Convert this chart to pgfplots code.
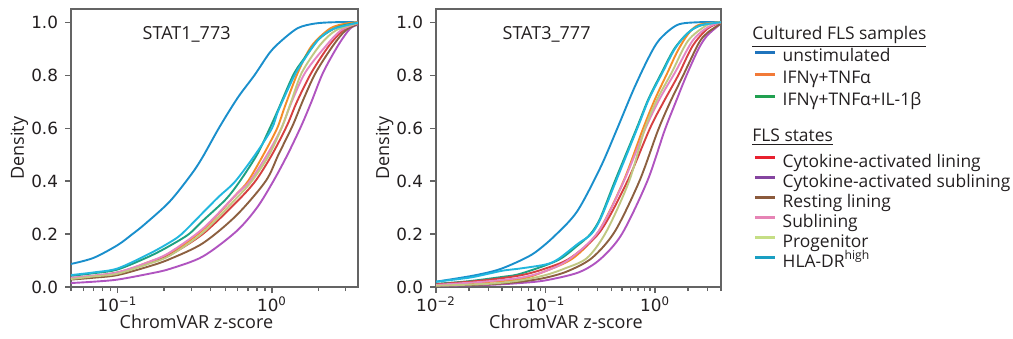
\documentclass[border=0pt]{standalone}
\usepackage{fontspec}
\setmainfont{Open Sans}
\newfontfamily\dejavu{DejaVu Sans}
\usepackage{pgfplots}
\pgfplotsset{compat=1.18}

\definecolor{axgray}{RGB}{100,100,100}
\definecolor{txt}{RGB}{35,31,32}
\definecolor{pblue}{RGB}{26,143,204}
\definecolor{porange}{RGB}{245,140,40}
\definecolor{pgreen}{RGB}{30,160,128}
\definecolor{pred}{RGB}{214,64,64}
\definecolor{ppurple}{RGB}{176,84,192}
\definecolor{pbrown}{RGB}{140,96,64}
\definecolor{ppink}{RGB}{228,134,196}
\definecolor{polive}{RGB}{192,200,130}
\definecolor{pcyan}{RGB}{34,183,222}
\definecolor{lblue}{RGB}{31,116,189}
\definecolor{lorange}{RGB}{242,122,56}
\definecolor{lgreen}{RGB}{33,160,80}
\definecolor{lred}{RGB}{232,32,46}
\definecolor{lpurple}{RGB}{133,69,160}
\definecolor{lbrown}{RGB}{139,90,60}
\definecolor{lpink}{RGB}{230,132,181}
\definecolor{lolive}{RGB}{197,222,133}
\definecolor{lcyan}{RGB}{26,159,194}

\newcommand\legfont{\fontsize{8.7bp}{10bp}\selectfont}
\newcommand\tickfont{\dejavu\fontsize{8.4bp}{10bp}\selectfont}
\newcommand\labfont{\fontsize{9bp}{11bp}\selectfont}

\begin{document}
\begin{tikzpicture}
\useasboundingbox (0,0) rectangle (506.5bp,169.5bp);

% ---------------- left panel ----------------
\begin{axis}[at={(35.5bp,26bp)}, anchor=south west,
  scale only axis, width=143.5bp, height=139bp, clip mode=individual,
  xmode=log, xmin=0.05, xmax=3.6, ymin=0, ymax=1.05,
  ytick={0,0.2,0.4,0.6,0.8,1.0},
  yticklabels={0.0,0.2,0.4,0.6,0.8,1.0},
  xtick={0.1,1}, xticklabels={{10\textsuperscript{−1}},{10\textsuperscript{0}}},
  minor xtick={0.05,0.06,0.07,0.08,0.09,0.2,0.3,0.4,0.5,0.6,0.7,0.8,0.9,2,3},
  tick align=outside, tick pos=left,
  major tick length=3bp, minor tick length=2bp,
  axis line style={draw=axgray, line width=0.6bp},
  every tick/.append style={draw=axgray, line width=0.6bp},
  yticklabel style={font=\tickfont, text=txt},
  xticklabel style={font=\tickfont, text=txt, anchor=base, inner sep=0pt, yshift=-9bp},
  ylabel={Density}, xlabel={ChromVAR z-score},
  ylabel style={font=\labfont, text=txt, at={(axis description cs:-0.18,0.5)}, anchor=center},
  xlabel style={font=\labfont, text=txt, inner sep=0pt, at={(axis description cs:0.437,0)}, anchor=base, yshift=-20.5bp},
  legend cell align=left,
  legend image code/.code={\path (0bp,0bp) (10bp,0bp); \draw[#1, line width=1.7bp] (0bp,2.4bp) -- (10bp,2.4bp);},
  legend style={at={(axis description cs:2.376,0.867)}, anchor=north west,
    draw=none, fill=none, inner sep=0pt, row sep=0pt, column sep=3bp,
    nodes={inner sep=0pt, font=\legfont, text=txt, text height=7.5bp, text depth=3.5bp}},
]
\addplot[smooth, line width=0.95bp, pblue, forget plot] coordinates {(0.05,0.087)(0.07,0.11)(0.1,0.158)(0.125,0.2)(0.15,0.237)(0.217,0.322)(0.3,0.425)(0.355,0.49)(0.458,0.605)(0.6,0.715)(0.77,0.80)(0.966,0.885)(1.15,0.93)(1.47,0.978)(1.89,0.995)(2.5,1.0)(3.6,1.0)};
\addplot[smooth, line width=0.95bp, porange, forget plot] coordinates {(0.05,0.03)(0.07,0.038)(0.1,0.05)(0.16,0.095)(0.217,0.125)(0.356,0.215)(0.587,0.35)(0.7,0.4)(0.88,0.5)(1.08,0.6)(1.22,0.687)(1.47,0.81)(1.8,0.91)(2.37,0.976)(3.0,0.995)(3.6,1.0)};
\addplot[smooth, line width=0.95bp, pgreen, forget plot] coordinates {(0.05,0.042)(0.07,0.052)(0.1,0.066)(0.16,0.115)(0.217,0.155)(0.29,0.2)(0.356,0.25)(0.5,0.33)(0.62,0.4)(0.8,0.5)(0.95,0.59)(1.09,0.667)(1.37,0.8)(1.6,0.86)(2.0,0.935)(2.5,0.975)(3.0,0.99)(3.6,0.998)};
\addplot[smooth, line width=0.95bp, pred, forget plot] coordinates {(0.05,0.033)(0.07,0.042)(0.1,0.055)(0.16,0.09)(0.217,0.12)(0.356,0.2)(0.587,0.32)(0.78,0.4)(1.0,0.5)(1.25,0.61)(1.45,0.7)(1.8,0.81)(2.35,0.913)(2.96,0.976)(3.6,0.995)};
\addplot[smooth, line width=0.95bp, ppurple, forget plot] coordinates {(0.05,0.015)(0.07,0.02)(0.1,0.028)(0.16,0.05)(0.217,0.068)(0.356,0.115)(0.587,0.21)(0.8,0.3)(1.02,0.4)(1.26,0.5)(1.55,0.61)(1.8,0.7)(2.14,0.81)(2.68,0.913)(3.2,0.976)(3.6,0.99)};
\addplot[smooth, line width=0.95bp, pbrown, forget plot] coordinates {(0.05,0.028)(0.07,0.035)(0.1,0.045)(0.16,0.078)(0.217,0.105)(0.356,0.165)(0.587,0.27)(0.91,0.4)(1.1,0.5)(1.36,0.61)(1.6,0.71)(1.92,0.81)(2.49,0.913)(3.0,0.97)(3.6,0.993)};
\addplot[smooth, line width=0.95bp, ppink, forget plot] coordinates {(0.05,0.035)(0.07,0.043)(0.1,0.055)(0.16,0.095)(0.217,0.13)(0.356,0.22)(0.587,0.35)(0.72,0.4)(0.93,0.5)(1.15,0.6)(1.32,0.69)(1.64,0.81)(2.25,0.913)(2.8,0.97)(3.6,0.997)};
\addplot[smooth, line width=0.95bp, polive, forget plot] coordinates {(0.05,0.03)(0.07,0.04)(0.1,0.05)(0.16,0.088)(0.217,0.118)(0.356,0.205)(0.587,0.335)(0.74,0.4)(0.96,0.5)(1.17,0.61)(1.33,0.7)(1.56,0.81)(2.04,0.913)(2.6,0.97)(3.6,0.997)};
\addplot[smooth, line width=0.95bp, pcyan, forget plot] coordinates {(0.05,0.045)(0.07,0.055)(0.1,0.07)(0.16,0.125)(0.217,0.168)(0.26,0.2)(0.356,0.28)(0.45,0.34)(0.58,0.4)(0.8,0.51)(1.0,0.6)(1.1,0.667)(1.4,0.8)(1.62,0.86)(2.0,0.935)(2.5,0.975)(3.6,0.998)};
\node[font=\labfont, text=txt, anchor=base] at (axis description cs:0.403,0.891) {STAT1\_773};
\node[font=\legfont, text=txt, anchor=base west, inner sep=0pt] at (axis description cs:2.373,0.891) {\underline{Cultured FLS samples}};
\addlegendimage{lblue}
\addlegendentry{unstimulated}
\addlegendimage{lorange}
\addlegendentry{IFNγ+TNFα}
\addlegendimage{lgreen}
\addlegendentry{IFNγ+TNFα+IL-1β}
\end{axis}

% ---------------- right panel ----------------
\begin{axis}[at={(218bp,26bp)}, anchor=south west,
  scale only axis, width=142.5bp, height=139bp, clip mode=individual,
  xmode=log, xmin=0.01, xmax=4, ymin=0, ymax=1.05,
  ytick={0,0.2,0.4,0.6,0.8,1.0},
  yticklabels={0.0,0.2,0.4,0.6,0.8,1.0},
  xtick={0.01,0.1,1}, xticklabels={{10\textsuperscript{−2}},{10\textsuperscript{−1}},{10\textsuperscript{0}}},
  minor xtick={0.02,0.03,0.04,0.05,0.06,0.07,0.08,0.09,0.2,0.3,0.4,0.5,0.6,0.7,0.8,0.9,2,3,4},
  tick align=outside, tick pos=left,
  major tick length=3bp, minor tick length=2bp,
  axis line style={draw=axgray, line width=0.6bp},
  every tick/.append style={draw=axgray, line width=0.6bp},
  yticklabel style={font=\tickfont, text=txt},
  xticklabel style={font=\tickfont, text=txt, anchor=base, inner sep=0pt, yshift=-9bp},
  ylabel={Density}, xlabel={ChromVAR z-score},
  ylabel style={font=\labfont, text=txt, at={(axis description cs:-0.18,0.5)}, anchor=center},
  xlabel style={font=\labfont, text=txt, inner sep=0pt, at={(axis description cs:0.456,0)}, anchor=base, yshift=-20.5bp},
  legend cell align=left,
  legend image code/.code={\path (0bp,0bp) (10bp,0bp); \draw[#1, line width=1.7bp] (0bp,2.4bp) -- (10bp,2.4bp);},
  legend style={at={(axis description cs:1.112,0.486)}, anchor=north west,
    draw=none, fill=none, inner sep=0pt, row sep=0pt, column sep=3bp,
    nodes={inner sep=0pt, font=\legfont, text=txt, text height=7.5bp, text depth=2.5bp}},
]
\addplot[smooth, line width=0.95bp, pblue, forget plot] coordinates {(0.01,0.02)(0.02,0.04)(0.03,0.055)(0.04,0.07)(0.059,0.1)(0.08,0.13)(0.119,0.19)(0.194,0.285)(0.316,0.45)(0.448,0.595)(0.635,0.745)(0.87,0.865)(1.1,0.935)(1.6,0.99)(2.5,1.0)(4,1.0)};
\addplot[smooth, line width=0.95bp, porange, forget plot] coordinates {(0.01,0.008)(0.027,0.018)(0.059,0.03)(0.1,0.06)(0.18,0.11)(0.305,0.21)(0.515,0.4)(0.78,0.6)(1.0,0.71)(1.3,0.81)(1.6,0.89)(2.0,0.955)(2.5,0.99)(4,1.0)};
\addplot[smooth, line width=0.95bp, pgreen, forget plot] coordinates {(0.01,0.012)(0.02,0.022)(0.04,0.038)(0.059,0.05)(0.128,0.1)(0.194,0.155)(0.257,0.2)(0.316,0.26)(0.43,0.4)(0.68,0.6)(0.87,0.71)(1.15,0.81)(1.5,0.9)(2.0,0.96)(2.6,0.988)(4,1.0)};
\addplot[smooth, line width=0.95bp, pred, forget plot] coordinates {(0.01,0.01)(0.027,0.025)(0.059,0.044)(0.1,0.07)(0.169,0.11)(0.316,0.21)(0.56,0.4)(0.9,0.6)(1.2,0.7)(1.63,0.8)(2.2,0.91)(3,0.975)(4,1.0)};
\addplot[smooth, line width=0.95bp, ppurple, forget plot] coordinates {(0.01,0.004)(0.03,0.008)(0.059,0.015)(0.1,0.025)(0.2,0.055)(0.316,0.105)(0.498,0.2)(0.85,0.4)(1.22,0.59)(1.55,0.7)(1.94,0.8)(2.5,0.9)(3,0.95)(4,0.995)};
\addplot[smooth, line width=0.95bp, pbrown, forget plot] coordinates {(0.01,0.005)(0.03,0.01)(0.059,0.02)(0.1,0.035)(0.16,0.06)(0.266,0.11)(0.43,0.21)(0.72,0.4)(1.06,0.59)(1.38,0.7)(1.81,0.8)(2.5,0.92)(3,0.96)(4,0.995)};
\addplot[smooth, line width=0.95bp, ppink, forget plot] coordinates {(0.01,0.008)(0.027,0.02)(0.059,0.035)(0.1,0.06)(0.165,0.105)(0.305,0.21)(0.52,0.4)(0.82,0.6)(1.1,0.71)(1.52,0.81)(2.2,0.93)(3,0.98)(4,1.0)};
\addplot[smooth, line width=0.95bp, polive, forget plot] coordinates {(0.01,0.005)(0.03,0.012)(0.059,0.025)(0.1,0.045)(0.15,0.07)(0.24,0.11)(0.36,0.21)(0.58,0.4)(0.81,0.6)(1.05,0.71)(1.42,0.81)(2.0,0.93)(3,0.99)(4,1.0)};
\addplot[smooth, line width=0.95bp, pcyan, forget plot] coordinates {(0.01,0.02)(0.02,0.035)(0.03,0.05)(0.041,0.062)(0.059,0.07)(0.1,0.085)(0.13,0.105)(0.2,0.165)(0.262,0.2)(0.32,0.26)(0.44,0.4)(0.69,0.6)(0.88,0.71)(1.17,0.81)(1.52,0.9)(2.0,0.96)(2.6,0.988)(4,1.0)};
\node[font=\labfont, text=txt, anchor=base] at (axis description cs:0.388,0.891) {STAT3\_777};
\node[font=\legfont, text=txt, anchor=base west, inner sep=0pt] at (axis description cs:1.109,0.522) {\underline{FLS states}};
\addlegendimage{lred}
\addlegendentry{Cytokine-activated lining}
\addlegendimage{lpurple}
\addlegendentry{Cytokine-activated sublining}
\addlegendimage{lbrown}
\addlegendentry{Resting lining}
\addlegendimage{lpink}
\addlegendentry{Sublining}
\addlegendimage{lolive}
\addlegendentry{Progenitor}
\addlegendimage{lcyan}
\addlegendentry{HLA-DR\textsuperscript{high}}
\end{axis}
\end{tikzpicture}
\end{document}
